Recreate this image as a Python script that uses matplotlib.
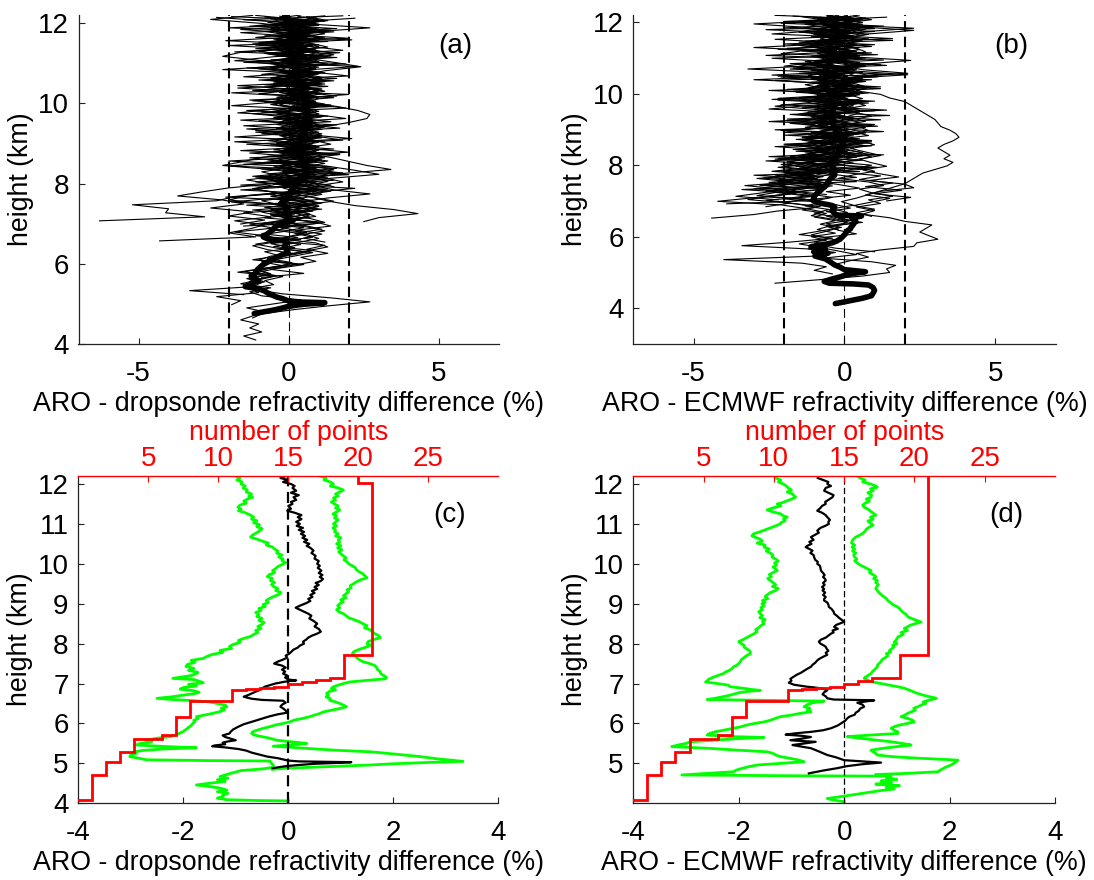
import numpy as np
import matplotlib
matplotlib.use("Agg")
import matplotlib.pyplot as plt

plt.rcParams['font.family'] = ['Liberation Sans', 'DejaVu Sans']
plt.rcParams['axes.unicode_minus'] = False
FS = 20      # tick labels and panel tags
FSL = 19.3   # axis labels

# ---------------- DATA ----------------
# Individual ARO - dropsonde profiles (%), sampled every 0.1 km from the top downward
drop_p01 = [0.4, -0.6, 0.9, -0.2, 1.1, 0.3, -0.5, 0.7, 1.3, 0.1,
            -0.4, 0.8, 0.2, 1.0, -0.3, 0.5, 0.9, -0.1, 0.6, 1.2,
            0.3, -0.2, 0.7, 0.4, 1.0, 0.1, 0.6, -0.3, 0.8, 0.5,
            1.1, 0.2, -0.4, 0.6, 0.9, 0.0, 0.5, 1.2, 0.3, -0.2,
            0.7, 0.4, -0.5, 0.2, 0.9, -0.3, 0.1, 0.6, -0.8, 0.3,
            -0.4, 0.2, -0.9, 0.5, -0.2, -1.1, 0.4, -0.6, 0.2, -0.8,
            -0.3, -1.2, 0.1, -0.7, -1.5, -0.4, -1.0, -1.6, -0.6, -1.3,
            -0.9, 0.4, -0.5, -1.4, -0.8, -1.2, -1.6, -1.0, -1.3, -0.9,
            -1.5, -1.1]
drop_p02 = [-0.8, 0.5, 0.1, 1.0, -0.4, 0.6, 0.2, -1.1, 0.8, 0.3,
            0.9, -0.2, 0.4, -0.7, 1.0, 0.2, -0.3, 0.7, 0.1, 0.5,
            -0.4, 0.9, 0.3, 0.0, 0.6, -0.5, 0.8, 0.2, 1.1, -0.1,
            0.4, 0.7, -0.3, 0.5, 0.1, -0.9, -1.5, -2.2, -0.6, 0.4,
            0.8, -0.2, 0.5, 1.0, -0.4, 0.3, -0.1, 0.7, -0.6, -0.2,
            0.4, -0.5, 0.1, -0.3, -0.9, 0.3, -0.4, -1.2, -0.7, 0.2,
            -0.5, -0.9, -0.2, -1.0, -0.6, -1.3, -0.8, -1.4, -1.1, -0.2,
            1.4, 2.7, 1.3, 0.1, -0.9, -1.2]
drop_p03 = [1.2, -0.3, 0.6, 2.7, 0.8, -0.2, 0.9, 0.4, -0.6, 1.0,
            0.5, 0.0, 1.3, 0.2, 0.7, -0.4, 0.6, 1.1, 0.3, -0.1,
            0.8, 0.4, 1.2, 0.1, 0.5, 0.9, -0.2, 0.6, 0.3, 1.0,
            0.2, 0.8, 1.4, 0.4, -0.1, 0.7, 1.1, 0.3, 0.9, 0.2,
            -0.3, 0.6, 1.0, 0.1, 0.4, -0.6, 0.8, 0.2, -0.1, 0.5,
            0.9, -0.2, 0.3, -0.7, 0.6, 0.0, -0.5, 0.4, -0.3, 0.8,
            0.1, -0.6, 0.5, -0.4, -1.1, -0.2, -0.8, -0.5, -1.3, -1.0,
            -2.4, -1.6, -1.9]
drop_p04 = [-0.2, 0.9, -1.0, 0.4, 0.0, 1.2, -0.5, 0.3, 0.8, -0.7,
            0.2, 1.0, -0.3, 0.5, 0.9, -0.6, 0.4, 0.1, 1.1, 0.6,
            -0.1, 0.5, 1.0, 0.2, -0.4, 0.7, 0.3, 0.9, -0.2, 0.4,
            0.8, -0.3, 0.6, 1.0, 0.2, 0.5, -0.5, 1.3, 2.2, 3.0,
            1.4, 0.3, -0.2, 0.8, 1.1, 0.4, -0.3, 1.0, 0.5, -0.6,
            0.7, 1.2, 0.1, -0.4, 0.6, 1.0, 0.3, -0.5, 0.8, 0.2,
            -0.7, 0.1, -0.3, -1.0, -0.6, -1.4, -0.9, -1.2, -3.3, -1.5]
drop_p05 = [-1.2, -2.6, -0.9, 0.2, -0.5, 0.7, -0.1, -0.8, 0.4, 0.9,
            -0.3, 0.5, -0.6, 0.2, 0.8, -0.1, 0.4, -0.5, 0.6, 0.0,
            0.7, -0.2, 0.3, 0.9, -0.4, 0.2, 0.6, -0.1, 0.5, 0.8,
            -0.3, 0.4, 0.0, 0.7, -0.5, 0.3, 0.9, 0.1, -0.4, 0.6,
            0.2, -0.7, 0.5, -0.2, 0.3, -1.4, -2.0, -0.6, 0.1, -0.9,
            -0.3, 0.4, -1.3, -0.5, -1.8, -0.7, -0.2, -1.1, -0.4, 0.6,
            -0.6, -1.0, 0.3, -0.8, -1.7, -0.5, -1.2]
drop_p06 = [0.6, 1.3, 0.1, -0.4, 0.8, 0.2, 1.0, -0.3, 0.5, 1.4,
            0.7, -0.2, 0.9, 0.3, 1.2, 0.0, 0.6, -0.5, 0.8, 0.4,
            1.0, 0.1, -0.3, 0.7, 0.5, 1.1, 0.2, 0.8, -0.2, 0.6,
            0.3, 1.0, 0.5, -0.1, 0.9, 0.4, 1.3, 0.2, 0.7, 1.8,
            0.9, 0.3, 1.4, 0.6, -0.2, 0.8, 1.5, 0.4, 1.0, 0.2,
            0.7, -0.3, 0.5, 1.1, 0.2, 0.8, -0.4, 1.2, 0.6, 1.3,
            0.4, 0.9, 0.1, -0.6, 0.5, -0.9]
drop_p07 = [0.0, -0.7, 0.5, 1.0, -0.2, 0.4, -0.9, 0.6, 0.2, -0.4,
            0.8, 0.1, -0.5, 0.7, 0.3, 1.1, -0.1, 0.5, 0.9, 0.4,
            1.0, 0.6, 1.6, 2.3, 2.7, 2.6, 2.0, 1.2, 0.5, -0.2,
            0.6, 0.2, 1.0, -0.3, 0.4, 0.8, 0.0, 0.6, 1.1, 0.3,
            -0.4, 0.5, 0.9, 0.1, -0.6, 0.4, 1.0, 0.2, -0.5, 0.7,
            0.3, -0.8, 0.6, 1.2, 0.4, -0.3, 0.9, 1.3, 0.6, -0.2,
            -0.7]
drop_p08 = [0.3, 1.0, -0.5, 0.2, 0.7, -0.3, 0.5, -1.0, 0.1, -1.6,
            -2.2, -1.0, 0.3, 0.8, -0.2, 0.4, -0.6, 0.9, 0.2, -0.3,
            0.6, 0.0, -0.5, 0.5, 0.9, -0.1, 0.3, -0.4, 0.7, 0.2,
            -0.2, 0.5, 0.1, 0.8, -0.3, 0.4, 0.9, -0.2, 0.6, 0.0,
            0.5, -0.6, 0.3, -1.2, -0.4, 0.2, -0.9, -0.3, 0.4, -1.5,
            -0.6, -1.8, -0.8, -1.3, -2.0, -1.1, -4.3]
drop_p09 = [-0.5, 0.2, 0.8, -0.1, 0.5, 1.1, -0.4, 0.3, 0.7, 0.0,
            0.6, 1.0, 0.2, -0.3, 0.9, 0.4, 1.2, 0.1, -0.2, 0.8,
            0.3, -0.5, 0.7, 0.2, 1.0, 0.5, -0.3, 0.6, 0.1, 1.1,
            0.4, -0.1, 0.9, 0.5, 0.2, 1.2, 0.0, 0.7, 1.5, 0.6,
            1.2, 1.8, 0.9, 1.5, 2.7, 1.3, 0.4, 1.0, 0.2, 0.7,
            -0.2, 0.9, 1.4, 0.3, 1.1, 0.5, 1.2]
drop_p10 = [0.8, -0.1, 0.4, 1.1, 0.2, -0.4, 0.6, 1.0, 0.3, 1.5,
            0.7, 1.6, 2.4, 1.2, 0.5, -0.2, 0.8, 0.3, 1.0, -0.1,
            0.5, 0.9, 0.2, -0.4, 0.6, 0.1, 0.8, 1.2, 0.4, -0.2,
            0.7, 0.3, 1.0, -0.3, 0.5, 0.8, 0.1, -0.5, 0.6, 1.3,
            0.2, 0.9, -0.2, 1.4, 0.5, -0.4, 1.1, 0.3, 0.8, -0.6,
            0.2, 1.0, -0.3, 0.4]
drop_p11 = [-1.1, 0.3, -0.4, 0.5, -0.8, 0.1, 0.7, -0.5, 0.2, -1.0,
            0.4, -0.3, 0.6, -0.6, 0.1, 0.8, -0.2, 0.3, -0.7, 0.5,
            0.0, -0.4, 0.6, 0.2, -0.6, 0.4, -0.1, 0.7, -0.3, 0.1,
            0.5, -0.5, 0.2, 0.8, -0.2, 0.3, -0.7, 0.4, 0.0, -0.9,
            -0.3, -1.4, -0.6, -2.0, -2.9, -3.7, -2.2, -1.5, -2.6, -1.2,
            -2.0, -0.8, -1.6]
drop_p12 = [0.5, 1.2, -0.2, 0.7, 0.1, 1.0, 0.4, -0.3, 0.9, 0.2,
            1.3, 0.6, -0.1, 0.8, 0.3, 1.1, 0.5, -0.2, 0.7, 0.0,
            0.9, 0.4, 1.2, 0.2, -0.3, 0.8, 0.5, 1.0, 0.1, 0.6,
            1.1, 0.3, 0.8, -0.1, 0.6, 1.4, 2.0, 2.6, 3.4, 1.8,
            0.9, 1.3, 0.5, 1.0, 0.2, 0.8, 1.4, 2.2, 3.5, 4.3,
            3.0, 2.5]
drop_p13 = [-0.3, 0.4, 1.0, -0.6, 0.2, 0.7, -0.2, 0.5, -0.8, 0.1,
            0.6, -0.4, 0.3, 0.9, -0.1, 0.4, -0.5, 0.7, 0.2, -0.3,
            0.5, 0.1, -0.6, 0.3, 0.8, -0.2, 0.4, 0.0, -0.4, 0.6,
            0.2, -0.7, 0.4, 0.9, -0.1, 0.3, -0.5, 0.6, -0.2, 0.1,
            -0.9, 0.2, -0.5, -1.2, -0.4, -1.8, -2.4, -5.2, -4.0, -4.1,
            -2.8, -6.3]
drop_p14 = [0.9, 0.2, -0.6, 0.6, 1.2, -0.1, 0.3, 0.8, -0.4, 0.5,
            0.1, 0.9, -0.3, 0.4, 1.0, 0.2, -0.5, 0.7, 0.3, 1.1,
            -0.2, 0.6, 0.1, 0.8, 0.4, -0.4, 0.9, 0.2, 0.6, -0.1,
            0.5, 1.0, 0.3, -0.2, 0.7, 0.1, 0.8, -0.3, 0.4, 0.9,
            0.2, -0.4, 0.6, 1.0, -0.1, 0.5]
drop_p15 = [1.8, -1.5, 0.9, -2.0, 1.5, -0.8, 2.1, -1.2, 0.6, -1.8,
            1.4, -0.6, 1.9, -1.4, 0.8, 2.0, -1.0, 1.2, -1.7, 0.5,
            1.6, -1.3, 0.7, 1.9, -0.9, 1.3, -1.6, 0.4, 1.7, -1.1,
            0.9, 1.8, -1.4, 0.6, 2.0, -0.7, 1.1, -1.5, 1.6, 0.3,
            -1.2, 1.5, -0.5, 2.2, 0.8]
drop_p16 = [-1.9, 1.2, -0.7, 1.6, -1.6, 0.4, -2.1, 1.0, -1.1, 1.7,
            -0.5, -1.8, 1.3, -1.0, 0.2, -1.5, 1.5, -0.8, 1.1, -1.9,
            0.6, -1.2, 1.4, -0.4, -1.7, 0.9, -1.0, 1.6, -1.4, 0.3,
            -1.8, 1.2, -0.6, 1.5, -1.3, 0.5, -2.0, 1.0, -0.9, 1.8,
            -1.1, 0.7, -1.6, 1.3, -0.3, -2.1, 0.8, -1.4, 1.1, -0.6]
drop_p17 = [2.2, 0.1, -1.3, 1.4, -0.2, 2.0, -1.0, 0.7, 1.8, -0.6,
            1.1, -1.5, 2.3, 0.4, -0.9, 1.6, -0.3, 1.3, -1.2, 2.0,
            0.2, -0.8, 1.5, -1.4, 0.9, 1.9, -0.5, 1.2, -1.1, 0.6,
            2.1, -0.4, 1.0, -1.6, 1.7, 0.3, -0.9, 1.4, -0.2, 2.0,
            -1.0, 0.8, 1.5]
drop_p18 = [-2.4, -0.5, 1.0, -1.6, 0.3, -1.1, 1.3, -2.0, 0.5, -0.8,
            1.6, -1.4, 0.0, -2.2, 0.9, -0.6, 1.2, -1.7, 0.4, -1.0,
            1.5, -0.3, -1.9, 0.8, -1.2, 0.2, 1.4, -1.5, 0.6, -0.9,
            1.1, -1.8, 0.3, -0.5, 1.7, -1.3, 0.1, -2.0, 0.9, -0.7,
            1.3, -1.1, 0.5, -1.6, 1.0, -0.4, -1.9, 0.7, -1.2, 0.2,
            -0.8, 1.1, -1.5]
# top height (km) of each dropsonde profile
drop_tops = [12.20, 12.15, 12.18, 12.13, 12.19, 12.16, 12.12, 12.17, 12.14,
             12.11, 12.19, 12.15, 12.17, 12.13, 12.18, 12.16, 12.12, 12.14]

# Individual ARO - ECMWF profiles (%), every 0.1 km from the top downward
ecm_p01 = [-0.6, 0.3, -1.2, -0.2, 0.5, -0.9, -0.3, 0.4, -1.0, -0.5,
           0.2, -0.8, -0.1, -1.3, -0.4, 0.3, -0.7, -0.2, -1.1, 0.1,
           -0.5, -0.9, 0.2, -0.4, -1.2, -0.1, -0.6, 0.3, -0.8, -0.3,
           -1.0, 0.1, -0.5, -0.9, -0.2, -1.4, -0.6, 0.2, -0.8, -1.3,
           -0.4, -1.9, -0.7, -0.2, -1.5, -2.3, -0.9, -1.6, -0.5, -2.1,
           -1.2, -0.4, -1.0, -0.3, 0.2, -0.6, 0.4, -0.2, 0.6, -0.5,
           -0.9, -0.3, -1.1, -0.6, -1.5, -0.8, -0.2, 0.4, -0.7, 0.9,
           1.7, 1.4, 1.5, 0.6, -0.8, -2.3]
ecm_p02 = [0.2, -0.7, -0.1, 0.6, -0.4, -1.0, 0.1, -0.5, 0.4, -0.8,
           -0.2, 0.5, -0.6, -1.1, -0.3, 0.2, -0.9, -0.4, 0.3, -0.7,
           -1.2, -0.1, -0.6, 0.1, -0.8, -0.3, -1.0, -0.5, 0.0, -0.9,
           -0.4, -1.3, -0.2, -0.7, 0.1, -0.5, -1.1, -0.3, -0.8, 0.0,
           -0.6, -1.4, -0.9, -0.3, -1.7, -1.0, -2.2, -0.7, -1.5, -2.6,
           -1.1, -2.0, -0.8, -1.3, -0.5, -1.0, -0.4, 0.2, -0.6, -0.1,
           -0.8, -1.5, -0.4, -1.0, -0.6, -1.2, -0.3, -0.9, -4.0, -1.4,
           -0.6, -1.0, -0.4]
ecm_p03 = [-0.9, 0.4, -0.3, 2.3, 0.6, -0.2, 0.8, -0.6, 0.1, 0.5,
           -0.4, 0.3, 2.2, 0.7, -0.1, 0.4, 2.1, 0.2, -0.5, 0.3,
           -0.2, 0.6, 0.0, -0.6, 0.4, -0.1, 0.5, -0.3, 0.2, 0.7,
           0.1, -0.4, 0.3, 0.8, -0.2, 0.5, 0.0, -0.5, 0.4, 0.9,
           0.2, -0.3, 0.6, 1.0, 0.3, -0.2, 0.8, 1.3, 0.5, 0.9,
           1.6, 0.8, 1.2, 0.4, 1.0, 0.6, 1.5, 2.0, 2.9, 2.7,
           2.5, 2.8, 3.1, 2.4, 2.3, 1.2, 0.4, 0.8, 0.2, -0.3]
ecm_p04 = [-0.3, 0.5, -0.8, 0.2, -0.5, 0.6, -0.1, -0.9, 0.3, -0.4,
           0.4, -0.6, 0.1, -0.3, 0.7, -0.2, 0.3, -0.7, 0.5, 0.0,
           0.8, 0.4, 1.2, 1.5, 2.0, 2.2, 2.4, 2.6, 2.8, 3.0,
           3.1, 3.2, 3.5, 3.7, 3.8, 3.6, 3.3, 3.1, 3.3, 3.5,
           3.3, 3.6, 3.4, 3.0, 2.6, 2.4, 2.2, 2.0, 1.6, 1.2,
           0.8, 0.4, -0.1, 0.3, -0.4, 0.1, -0.6, -0.2, 0.3, -0.5,
           -0.2, 0.4, -0.7, -0.1, -0.9, -0.3, 1.0]
ecm_p05 = [-1.4, -0.6, -3.0, -1.2, -0.4, -1.0, -0.2, -0.8, -1.5, -0.7,
           -0.3, -1.1, -0.5, -0.9, -1.6, -0.6, -0.2, -1.0, -0.4, -1.3,
           -0.7, -0.1, -0.9, -0.5, -1.2, -2.3, -0.8, -0.3, -1.1, -0.6,
           -1.4, -0.2, -0.8, -1.2, -0.5, -1.0, -1.7, -0.4, -0.9, -1.5,
           -0.7, -1.2, -2.0, -0.9, -1.6, -2.4, -1.1, -2.8, -1.5, -2.2,
           -2.9, -1.3, -2.0, -0.8, -1.4, -0.6, -1.0, -0.3, -0.8, -0.2,
           -0.6, -1.1, -0.5, -1.8, -3.4, -1.0]
ecm_p06 = [0.1, -0.4, 0.6, -0.2, -0.9, 0.3, -0.5, 0.2, -0.7, -3.0,
           -0.5, 0.4, -0.3, -1.0, -0.8, -3.2, -0.6, -0.1, -3.0, -0.4,
           -0.4, 0.3, -0.7, -0.2, 0.4, -0.6, -0.1, -0.9, -0.3, 0.2,
           -0.5, -1.0, -0.2, 0.3, -0.6, -0.1, -0.8, -0.4, 0.1, -0.7,
           -1.2, -0.3, -0.9, -1.6, -0.6, -1.1, -2.0, -0.8, -1.5, -2.6,
           -1.8, -3.0, -4.2, -2.1, -1.3, -0.7, -1.1, -0.4, 0.1, -0.6,
           -0.2]
ecm_p07 = [-0.5, 0.2, -0.2, -0.8, 0.1, -0.6, 0.4, -0.3, -1.0, -0.1,
           0.3, -0.7, -0.2, 0.5, -0.4, -0.9, 0.0, -0.5, 0.2, -0.8,
           -0.3, 0.4, -0.6, -1.1, -0.2, 0.1, -0.7, -0.3, 0.3, -0.5,
           -0.9, -0.1, 0.2, -0.6, -1.2, -0.4, 0.0, -0.8, -0.3, -1.5,
           -0.6, -2.1, -1.0, -0.4, -1.8, -0.9, -2.5, -1.4, -0.7, -2.0,
           -1.1, -2.6, -1.6, -0.9, -2.2, -3.0, -4.4]
ecm_p08 = [0.3, 0.9, 0.0, 0.5, 2.3, 0.8, 0.1, 0.6, -0.2, 0.4,
           0.7, 0.2, -0.3, 0.5, 0.0, 0.6, 2.1, 0.3, -0.1, 0.4,
           0.8, 0.1, 0.5, -0.2, 0.3, 0.7, 0.0, 0.4, 0.9, 0.2,
           -0.1, 0.5, 0.8, 0.3, 0.0, 0.6, 1.0, 0.2, 0.7, 1.2,
           0.5, 0.9, 1.4, 0.6, 1.1, 1.8, 0.8, 2.0, 2.3, 1.2,
           0.7, 1.5, 0.9, 0.3, 1.0, 0.4, 0.9]
ecm_p09 = [-0.8, -0.2, -1.3, -0.5, 0.2, -0.9, -0.4, 0.0, -1.1, -0.6,
           -0.1, -0.8, -0.4, -1.2, -0.3, 0.1, -0.7, -1.0, -0.2, -0.6,
           -1.3, -0.5, 0.0, -0.8, -0.3, -1.1, -0.6, -0.1, -0.9, -0.4,
           -1.2, -0.2, -0.7, -1.0, -0.3, -0.8, -1.4, -0.5, -1.0, -1.8,
           -0.7, -1.3, -2.2, -0.9, -1.6, -2.7, -1.2, -2.0, -3.0, -1.5,
           -2.4, -3.2, -1.8, -2.6]
ecm_p10 = [0.5, -0.3, 0.2, -0.6, 0.7, 0.1, -0.4, 0.5, 0.0, -0.5,
           0.3, -0.2, 0.6, -0.7, 0.2, -0.3, 0.4, 0.8, -0.1, 0.3,
           -0.4, 0.5, 0.1, -0.5, 0.6, 0.2, -0.2, 0.4, -0.6, 0.0,
           0.5, -0.3, 0.2, 0.7, -0.4, 0.1, 0.6, -0.2, 0.3, 0.8,
           0.2, -0.4, 0.9, 0.3, -0.1, 1.2, 0.5, 1.6, 0.7, 1.9,
           1.0, 2.2, 1.4]
ecm_p11 = [-1.0, -0.4, 0.1, -0.7, -1.5, -0.3, -0.8, -0.1, -1.2, -0.5,
           -0.9, -0.2, -0.6, -1.4, -0.4, -0.8, -0.1, -1.1, -0.5, -0.9,
           -0.3, -1.2, -0.6, -0.1, -1.0, -0.4, -0.8, -1.5, -0.3, -0.7,
           -1.1, -0.2, -0.9, -0.5, -1.3, -0.6, -0.2, -1.0, -0.4, -1.6,
           -0.8, -1.9, -1.2, -2.4, -1.0, -2.9, -1.7, -3.3, -2.0, -2.7,
           -3.6, -2.2]
ecm_p12 = [0.0, 0.6, -0.4, 0.3, -0.2, 0.8, 0.1, -0.5, 0.4, 0.0,
           -0.3, 0.5, -0.1, 0.2, 0.7, -0.4, 0.3, 0.0, 0.6, -0.2,
           0.4, -0.5, 0.2, 0.6, -0.1, 0.3, -0.3, 0.5, 0.1, -0.4,
           0.3, 0.7, -0.2, 0.2, -0.5, 0.4, 0.0, -0.3, 0.6, 0.1,
           -0.4, 0.3, -0.8, 0.0, -0.5, 0.4, -1.0, -0.2, 0.5, -0.6,
           0.2, -0.9]
ecm_p13 = [-0.2, -0.9, -0.5, 0.1, -0.6, -1.1, -0.2, -0.7, 0.2, -0.4,
           -0.8, 0.0, -0.5, -0.2, -1.0, -0.3, -0.6, 0.1, -0.9, -0.4,
           0.1, -0.7, -0.3, -1.0, -0.5, 0.0, -0.8, -0.2, -0.6, -1.1,
           -0.3, -0.7, 0.0, -0.4, -0.9, -0.2, -0.6, -1.1, -0.3, -0.8,
           -0.2, -1.3, -0.5, -0.9, -2.0, -0.7, -1.4, -0.4, -1.0, -1.8,
           -0.6]
ecm_p14 = [-0.4, 0.1, -0.7, -0.2, -1.0, 0.0, -0.5, -0.9, -0.3, 0.2,
           -0.6, -0.1, -0.9, -0.4, 0.1, -0.7, -1.2, -0.3, -0.8, 0.0,
           -0.5, -1.0, -0.2, -0.6, -0.1, -0.9, -0.4, -1.3, -0.5, -0.2,
           -0.8, -0.3, -1.1, -0.6, 0.0, -0.7, -0.2, -1.0, -0.5, -1.4,
           -0.6, -0.2, -1.1, -0.7, -1.6, -0.9]
ecm_p15 = [-2.3, 0.8, -1.6, 1.3, -2.6, 0.2, -1.1, 1.6, -2.0, 0.5,
           -1.4, 1.1, -2.4, -0.3, 1.4, -1.8, 0.6, -2.2, 0.9, -1.0,
           1.2, -2.5, 0.1, -1.5, 1.0, -2.1, 0.4, -1.2, 1.5, -1.9,
           -0.2, 1.1, -2.3, 0.6, -1.4, 0.9, -2.0, 0.3, -1.6, 1.3,
           -2.2, -0.1, -1.1, 0.8, -1.8]
ecm_p16 = [1.4, -1.2, 0.6, -2.0, 1.0, -0.7, 1.6, -1.5, 0.2, -2.2,
           0.9, -0.9, 1.3, -1.8, 0.4, -1.1, 1.5, -2.1, 0.7, -0.5,
           1.2, -1.6, 0.3, -2.4, 0.8, -0.8, 1.4, -1.3, 0.1, -1.9,
           1.0, -0.6, 1.3, -2.0, 0.5, -1.2, 0.9, -1.7, 0.2, -2.5,
           0.6, -1.0, 1.1, -2.2, -0.3, -1.5, 0.4, -2.8, -0.6, -1.9]
ecm_p17 = [-1.7, 0.5, -2.1, 0.9, -0.8, -2.4, 0.3, -1.3, 1.0, -1.9,
           -0.2, -2.6, 0.7, -1.0, -2.0, 0.4, -1.5, 1.1, -2.3, -0.5,
           0.8, -1.7, -0.1, -2.2, 0.6, -1.2, -2.5, 0.2, -0.9, 1.2,
           -1.8, -0.4, -2.1, 0.5, -1.4, 0.9, -2.0, -0.6, -1.3, 0.7,
           -2.3, -0.2, -1.6]
ecm_p18 = [0.7, -2.0, -0.4, 1.0, -1.5, 0.3, -2.3, -0.2, 0.9, -1.2,
           -2.1, 0.5, -0.9, 1.2, -1.7, -0.1, -2.4, 0.6, -1.1, 0.2,
           -1.9, 0.8, -0.6, -2.2, 0.4, -1.4, 1.0, -1.8, -0.3, -2.5,
           0.6, -1.0, -2.0, 0.3, -1.6, 0.9, -2.3, -0.5, -1.2, 0.4,
           -2.6, -0.7, -1.5, 0.5, -3.0, -1.1, -2.2, -0.4, -3.4, -1.6,
           -2.7, -0.8, -3.9]
ecm_tops = [12.20, 12.16, 12.13, 12.18, 12.15, 12.19, 12.12, 12.17, 12.14,
            12.20, 12.13, 12.16, 12.18, 12.11, 12.19, 12.14, 12.17, 12.12]

# Mean ARO - dropsonde difference (black in (c), thick in (a))
mean_drop_h = [12.20, 12.15, 12.10, 12.05, 12.00, 11.95, 11.90, 11.83, 11.78, 11.72,
               11.67, 11.60, 11.55, 11.50, 11.45, 11.38, 11.33, 11.28, 11.22, 11.17,
               11.12, 11.05, 11.00, 10.95, 10.90, 10.85, 10.80, 10.75, 10.70, 10.65,
               10.60, 10.55, 10.50, 10.45, 10.40, 10.33, 10.27, 10.20, 10.13, 10.07,
               10.00, 9.95, 9.90, 9.83, 9.77, 9.72, 9.67, 9.62, 9.57, 9.52,
               9.47, 9.42, 9.37, 9.32, 9.27, 9.22, 9.17, 9.12, 9.07, 9.02,
               8.95, 8.90, 8.85, 8.80, 8.75, 8.70, 8.63, 8.57, 8.50, 8.43,
               8.37, 8.30, 8.25, 8.20, 8.15, 8.10, 8.05, 8.00, 7.95, 7.90,
               7.85, 7.80, 7.75, 7.70, 7.65, 7.60, 7.55, 7.50, 7.45, 7.40,
               7.35, 7.30, 7.25, 7.20, 7.15, 7.10, 7.08, 7.05, 7.00, 6.96,
               6.92, 6.88, 6.83, 6.78, 6.72, 6.67, 6.62, 6.59, 6.57, 6.52,
               6.47, 6.42, 6.36, 6.31, 6.27, 6.23, 6.17, 6.10, 6.04, 5.98,
               5.92, 5.85, 5.79, 5.75, 5.70, 5.66, 5.62, 5.58, 5.55, 5.52,
               5.48, 5.45, 5.43, 5.40, 5.36, 5.32, 5.27, 5.22, 5.17, 5.13,
               5.10, 5.07, 5.05, 5.03, 5.01, 4.99, 4.96, 4.93, 4.90, 4.88]
mean_drop_x = [-0.05, -0.15, 0.0, -0.1, 0.05, 0.12, 0.08, 0.15, 0.05, 0.2,
               0.1, 0.15, 0.05, 0.08, 0.0, 0.05, -0.02, 0.12, 0.25, 0.18,
               0.25, 0.15, 0.22, 0.16, 0.28, 0.2, 0.3, 0.24, 0.32, 0.27,
               0.36, 0.3, 0.4, 0.35, 0.42, 0.48, 0.44, 0.52, 0.5, 0.58,
               0.55, 0.6, 0.56, 0.63, 0.58, 0.65, 0.6, 0.66, 0.62, 0.52,
               0.58, 0.5, 0.55, 0.45, 0.5, 0.42, 0.46, 0.38, 0.42, 0.35,
               0.22, 0.14, 0.22, 0.3, 0.38, 0.44, 0.4, 0.48, 0.55, 0.5,
               0.58, 0.62, 0.55, 0.45, 0.38, 0.34, 0.28, 0.3, 0.22, 0.18,
               0.1, 0.06, 0.02, -0.05, -0.02, -0.1, -0.2, -0.27, -0.12, -0.05,
               -0.12, -0.06, -0.1, -0.02, -0.06, 0.0, 0.15, -0.05, -0.25, -0.35,
               -0.45, -0.5, -0.56, -0.65, -0.75, -0.85, -0.7, -0.5, -0.1, -0.05,
               -0.12, -0.15, -0.08, -0.04, -0.02, -0.2, -0.38, -0.55, -0.7, -0.85,
               -0.95, -1.05, -1.1, -1.12, -1.25, -1.2, -1.1, -1.0, -1.15, -1.25,
               -1.2, -1.4, -1.45, -1.2, -0.95, -0.8, -0.7, -0.55, -0.4, -0.2,
               -0.1, 0.0, 0.2, 1.2, 0.9, 0.5, 0.2, -0.05, -0.2, -0.3]
drop_thick_tail_h = [4.84, 4.80, 4.76]
drop_thick_tail_x = [-0.55, -0.85, -1.15]

# Mean ARO - ECMWF difference (black in (d), thick in (b))
mean_ecm_h = [12.15, 12.10, 12.05, 12.00, 11.95, 11.90, 11.83, 11.77, 11.72, 11.67,
              11.60, 11.55, 11.50, 11.45, 11.40, 11.33, 11.28, 11.22, 11.17, 11.10,
              11.05, 11.00, 10.95, 10.90, 10.83, 10.78, 10.72, 10.67, 10.60, 10.55,
              10.50, 10.45, 10.42, 10.37, 10.33, 10.27, 10.22, 10.17, 10.10, 10.05,
              10.00, 9.95, 9.90, 9.83, 9.77, 9.72, 9.67, 9.62, 9.58, 9.52,
              9.47, 9.42, 9.37, 9.33, 9.28, 9.22, 9.17, 9.12, 9.08, 9.03,
              8.98, 8.92, 8.87, 8.80, 8.75, 8.70, 8.65, 8.60, 8.55, 8.52,
              8.47, 8.42, 8.37, 8.33, 8.28, 8.25, 8.20, 8.15, 8.10, 8.05,
              8.00, 7.95, 7.92, 7.87, 7.82, 7.77, 7.72, 7.67, 7.62, 7.58,
              7.52, 7.47, 7.42, 7.37, 7.32, 7.27, 7.22, 7.17, 7.12, 7.07,
              7.02, 6.97, 6.94, 6.92, 6.90, 6.87, 6.83, 6.78, 6.73, 6.68,
              6.63, 6.60, 6.58, 6.55, 6.52, 6.47, 6.42, 6.37, 6.32, 6.27,
              6.22, 6.17, 6.13, 6.07, 6.00, 5.95, 5.88, 5.83, 5.79, 5.75,
              5.72, 5.69, 5.66, 5.62, 5.58, 5.56, 5.54, 5.50, 5.46, 5.42,
              5.38, 5.30, 5.21, 5.15, 5.08, 5.05, 5.02, 4.98, 4.93, 4.88,
              4.82, 4.75]
mean_ecm_x = [-0.5, -0.4, -0.3, -0.32, -0.25, -0.35, -0.38, -0.28, -0.2, -0.22,
              -0.3, -0.36, -0.35, -0.42, -0.45, -0.51, -0.42, -0.35, -0.32, -0.27,
              -0.3, -0.29, -0.36, -0.45, -0.51, -0.48, -0.56, -0.63, -0.58, -0.66,
              -0.62, -0.7, -0.73, -0.66, -0.6, -0.64, -0.58, -0.57, -0.55, -0.5,
              -0.51, -0.46, -0.45, -0.44, -0.4, -0.37, -0.4, -0.36, -0.35, -0.4,
              -0.37, -0.42, -0.38, -0.41, -0.36, -0.4, -0.35, -0.38, -0.38, -0.32,
              -0.3, -0.29, -0.24, -0.2, -0.19, -0.14, -0.1, -0.05, 0.0, -0.05,
              -0.15, -0.19, -0.12, -0.22, -0.2, -0.25, -0.3, -0.35, -0.44, -0.48,
              -0.45, -0.38, -0.35, -0.33, -0.3, -0.35, -0.32, -0.4, -0.47, -0.51,
              -0.55, -0.6, -0.63, -0.7, -0.76, -0.82, -0.9, -0.96, -1.02, -1.0,
              -1.05, -0.95, -0.8, -0.7, -0.55, -0.4, -0.32, -0.38, -0.41, -0.35,
              -0.32, -0.2, 0.57, 0.4, 0.25, 0.35, 0.38, 0.3, 0.28, 0.22,
              0.2, 0.1, 0.06, 0.02, -0.06, -0.12, -0.25, -0.4, -0.63, -0.95,
              -1.11, -0.8, -0.63, -0.8, -1.02, -0.8, -0.54, -0.75, -0.98, -0.8,
              -0.63, -0.48, -0.32, -0.15, 0.0, 0.35, 0.7, 0.35, 0.05, -0.13,
              -0.4, -0.67]
ecm_thick_tail_h = [4.70, 4.68, 4.65, 4.58, 4.50, 4.42, 4.35, 4.28, 4.22, 4.17, 4.13]
ecm_thick_tail_x = [-0.5, 0.3, 0.8, 0.95, 1.0, 0.95, 0.9, 0.6, 0.25, -0.05, -0.3]

# Green envelopes, panel (c)
green_lo_c_h = [12.2, 12.15, 12.1, 12.05, 12.0, 11.95, 11.9, 11.85, 11.8, 11.75,
                11.7, 11.67, 11.62, 11.57, 11.52, 11.47, 11.42, 11.37, 11.33, 11.28,
                11.22, 11.17, 11.12, 11.08, 11.03, 10.98, 10.93, 10.88, 10.83, 10.78,
                10.72, 10.67, 10.62, 10.57, 10.52, 10.47, 10.42, 10.37, 10.32, 10.27,
                10.22, 10.17, 10.12, 10.08, 10.03, 9.98, 9.93, 9.88, 9.83, 9.78,
                9.73, 9.68, 9.63, 9.58, 9.53, 9.48, 9.43, 9.38, 9.33, 9.28,
                9.23, 9.18, 9.13, 9.08, 9.03, 8.98, 8.93, 8.88, 8.83, 8.78,
                8.73, 8.68, 8.63, 8.58, 8.53, 8.48, 8.43, 8.38, 8.33, 8.28,
                8.23, 8.18, 8.13, 8.08, 8.03, 7.98, 7.93, 7.88, 7.83, 7.78,
                7.73, 7.68, 7.63, 7.58, 7.53, 7.48, 7.43, 7.38, 7.33, 7.28,
                7.25, 7.2, 7.16, 7.13, 7.1, 7.06, 7.02, 6.98, 6.94, 6.9,
                6.86, 6.82, 6.78, 6.75, 6.71, 6.67, 6.63, 6.6, 6.57, 6.54,
                6.5, 6.46, 6.42, 6.38, 6.34, 6.29, 6.25, 6.21, 6.17, 6.12,
                6.08, 6.04, 6.0, 5.95, 5.9, 5.85, 5.8, 5.75, 5.71, 5.67,
                5.63, 5.58, 5.54, 5.5, 5.46, 5.42, 5.39, 5.36, 5.32, 5.28,
                5.25, 5.21, 5.17, 5.13, 5.09, 5.07, 5.06, 5.0, 4.95, 4.9,
                4.86, 4.82, 4.79, 4.75, 4.71, 4.67, 4.63, 4.59, 4.55, 4.5,
                4.46, 4.42, 4.38, 4.33, 4.29, 4.25, 4.21, 4.17, 4.13, 4.09,
                4.07, 4.06]
green_lo_c_x = [-1.0, -0.92, -0.98, -0.88, -0.9, -0.82, -0.86, -0.78, -0.8, -0.7,
                -0.75, -0.68, -0.78, -0.85, -0.8, -0.92, -0.96, -0.9, -0.95, -0.82,
                -0.72, -0.66, -0.7, -0.6, -0.66, -0.55, -0.6, -0.5, -0.54, -0.6,
                -0.68, -0.72, -0.6, -0.5, -0.38, -0.42, -0.3, -0.26, -0.2, -0.22,
                -0.12, -0.18, -0.1, -0.12, -0.05, -0.12, -0.2, -0.24, -0.3, -0.26,
                -0.36, -0.4, -0.3, -0.34, -0.26, -0.32, -0.28, -0.2, -0.24, -0.14,
                -0.18, -0.28, -0.36, -0.42, -0.38, -0.48, -0.44, -0.56, -0.52, -0.62,
                -0.56, -0.6, -0.5, -0.56, -0.46, -0.5, -0.58, -0.52, -0.62, -0.58,
                -0.66, -0.72, -0.85, -0.95, -0.92, -1.05, -1.12, -1.08, -1.3, -1.25,
                -1.45, -1.55, -1.62, -1.85, -1.78, -1.92, -1.95, -1.8, -1.9, -1.72,
                -1.75, -1.85, -2.05, -2.2, -1.8, -1.7, -1.62, -1.9, -1.75, -2.0,
                -2.06, -1.8, -1.7, -1.78, -2.0, -2.2, -2.5, -2.2, -1.8, -1.5,
                -1.35, -1.2, -1.17, -1.28, -1.22, -1.32, -1.45, -1.6, -1.75, -1.72,
                -1.8, -1.78, -1.82, -1.85, -1.9, -1.95, -2.0, -2.08, -2.15, -2.25,
                -2.5, -2.7, -2.6, -2.82, -2.89, -2.3, -1.75, -2.4, -2.8, -2.95,
                -2.9, -3.0, -3.02, -2.85, -2.7, -1.5, -0.35, -0.32, -0.28, -0.3,
                -0.5, -0.9, -0.98, -1.1, -1.2, -1.3, -1.15, -1.35, -1.2, -1.5,
                -1.75, -1.5, -1.3, -1.17, -1.35, -1.15, -1.25, -1.24, -1.35, -1.17,
                -0.6, 0.0]
green_hi_c_h = [12.2, 12.15, 12.1, 12.05, 12.0, 11.95, 11.9, 11.85, 11.8, 11.75,
                11.7, 11.65, 11.6, 11.55, 11.5, 11.45, 11.4, 11.35, 11.3, 11.25,
                11.2, 11.15, 11.1, 11.05, 11.0, 10.95, 10.9, 10.85, 10.8, 10.75,
                10.7, 10.65, 10.6, 10.55, 10.5, 10.45, 10.4, 10.35, 10.3, 10.25,
                10.2, 10.15, 10.1, 10.05, 10.0, 9.95, 9.9, 9.85, 9.8, 9.75,
                9.7, 9.65, 9.6, 9.55, 9.5, 9.45, 9.4, 9.35, 9.3, 9.25,
                9.2, 9.15, 9.1, 9.05, 9.0, 8.95, 8.9, 8.85, 8.8, 8.75,
                8.7, 8.65, 8.6, 8.55, 8.5, 8.45, 8.4, 8.35, 8.3, 8.25,
                8.2, 8.15, 8.1, 8.05, 8.0, 7.96, 7.92, 7.87, 7.83, 7.79,
                7.75, 7.7, 7.65, 7.6, 7.55, 7.5, 7.45, 7.4, 7.35, 7.3,
                7.25, 7.2, 7.15, 7.12, 7.08, 7.04, 7.0, 6.96, 6.92, 6.88,
                6.84, 6.8, 6.75, 6.71, 6.67, 6.62, 6.58, 6.54, 6.5, 6.46,
                6.42, 6.38, 6.34, 6.29, 6.25, 6.21, 6.17, 6.12, 6.08, 6.04,
                6.0, 5.96, 5.92, 5.87, 5.83, 5.79, 5.75, 5.71, 5.67, 5.63,
                5.58, 5.55, 5.52, 5.5, 5.47, 5.43, 5.4, 5.38, 5.33, 5.29,
                5.25, 5.21, 5.17, 5.12, 5.08, 5.05, 5.02, 4.99, 4.96, 4.92,
                4.88, 4.85]
green_hi_c_x = [0.6, 0.72, 0.68, 0.8, 0.86, 0.8, 0.95, 1.05, 0.98, 0.9,
                0.95, 0.86, 0.9, 0.82, 0.88, 0.95, 0.9, 0.98, 0.92, 0.85,
                0.92, 0.88, 0.95, 0.9, 0.86, 0.92, 0.85, 0.9, 0.88, 0.95,
                0.9, 1.0, 0.95, 0.98, 0.92, 1.0, 0.94, 1.02, 0.96, 1.0,
                1.05, 1.1, 1.06, 1.12, 1.15, 1.22, 1.28, 1.3, 1.35, 1.42,
                1.46, 1.5, 1.38, 1.3, 1.24, 1.18, 1.2, 1.12, 1.15, 1.1,
                1.05, 1.1, 1.0, 1.05, 0.98, 0.94, 0.98, 0.92, 0.96, 1.05,
                1.1, 1.15, 1.25, 1.35, 1.42, 1.5, 1.45, 1.55, 1.6, 1.65,
                1.72, 1.75, 1.62, 1.52, 1.5, 1.56, 1.5, 1.38, 1.3, 1.24,
                1.22, 1.28, 1.3, 1.35, 1.42, 1.55, 1.65, 1.68, 1.7, 1.75,
                1.76, 1.82, 1.87, 1.85, 1.5, 1.17, 1.05, 0.95, 0.86, 0.82,
                0.9, 0.78, 0.73, 0.76, 0.72, 0.8, 0.79, 0.9, 0.98, 1.05,
                1.11, 1.0, 0.85, 0.67, 0.6, 0.5, 0.41, 0.25, 0.1, 0.03,
                -0.1, -0.25, -0.35, -0.5, -0.6, -0.68, -0.7, -0.65, -0.5, -0.35,
                -0.22, 0.0, 0.2, 0.35, 0.1, -0.29, 0.1, 0.29, 0.9, 1.56,
                1.9, 2.2, 2.51, 2.8, 3.1, 3.33, 2.6, 2.0, 1.56, 0.8,
                -0.03, -0.3]

# Green envelopes, panel (d)
green_lo_d_h = [12.2, 12.15, 12.1, 12.05, 12.0, 11.95, 11.9, 11.85, 11.8, 11.75,
                11.7, 11.67, 11.62, 11.57, 11.52, 11.5, 11.45, 11.4, 11.35, 11.3,
                11.25, 11.2, 11.17, 11.12, 11.08, 11.03, 11.0, 10.95, 10.9, 10.85,
                10.8, 10.75, 10.7, 10.67, 10.62, 10.57, 10.52, 10.47, 10.42, 10.37,
                10.32, 10.27, 10.22, 10.17, 10.12, 10.07, 10.02, 9.97, 9.92, 9.87,
                9.83, 9.78, 9.73, 9.68, 9.63, 9.58, 9.53, 9.48, 9.43, 9.38,
                9.33, 9.28, 9.23, 9.18, 9.13, 9.08, 9.03, 9.0, 8.95, 8.9,
                8.85, 8.8, 8.75, 8.7, 8.65, 8.6, 8.55, 8.5, 8.45, 8.4,
                8.35, 8.3, 8.25, 8.2, 8.15, 8.1, 8.05, 8.0, 7.96, 7.92,
                7.87, 7.83, 7.79, 7.75, 7.7, 7.65, 7.6, 7.55, 7.5, 7.45,
                7.42, 7.38, 7.33, 7.29, 7.25, 7.2, 7.15, 7.1, 7.06, 7.04,
                7.0, 6.96, 6.92, 6.88, 6.85, 6.83, 6.8, 6.77, 6.71, 6.67,
                6.63, 6.6, 6.58, 6.56, 6.52, 6.47, 6.42, 6.38, 6.33, 6.29,
                6.25, 6.21, 6.17, 6.13, 6.08, 6.04, 6.0, 5.96, 5.92, 5.88,
                5.83, 5.79, 5.75, 5.71, 5.67, 5.65, 5.62, 5.58, 5.54, 5.5,
                5.46, 5.42, 5.38, 5.33, 5.29, 5.25, 5.21, 5.17, 5.12, 5.08,
                5.04, 5.0, 4.96, 4.92, 4.87, 4.83, 4.79, 4.75, 4.71, 4.69,
                4.68, 4.64, 4.6, 4.56, 4.52, 4.48, 4.44, 4.4, 4.36, 4.32,
                4.28, 4.24, 4.2, 4.16, 4.12, 4.08, 4.04]
green_lo_d_x = [-1.28, -1.3, -1.2, -1.25, -1.15, -1.1, -1.06, -1.0, -1.08, -0.98,
                -0.95, -0.92, -1.0, -1.1, -1.2, -1.27, -1.2, -1.35, -1.46, -1.35,
                -1.2, -1.15, -1.08, -1.15, -1.12, -1.2, -1.21, -1.3, -1.4, -1.5,
                -1.6, -1.72, -1.75, -1.7, -1.6, -1.55, -1.65, -1.5, -1.52, -1.42,
                -1.48, -1.4, -1.35, -1.37, -1.3, -1.25, -1.32, -1.28, -1.35, -1.3,
                -1.27, -1.35, -1.42, -1.38, -1.45, -1.4, -1.35, -1.3, -1.36, -1.25,
                -1.3, -1.4, -1.45, -1.5, -1.45, -1.55, -1.5, -1.56, -1.52, -1.58,
                -1.55, -1.62, -1.59, -1.55, -1.6, -1.5, -1.55, -1.52, -1.58, -1.62,
                -1.68, -1.65, -1.71, -1.78, -1.85, -1.92, -2.0, -1.95, -1.9, -1.9,
                -1.85, -1.8, -1.78, -1.78, -1.85, -1.9, -1.95, -1.97, -2.0, -2.05,
                -2.1, -2.12, -2.18, -2.25, -2.29, -2.4, -2.5, -2.58, -2.6, -2.63,
                -2.4, -2.2, -2.16, -1.9, -1.75, -1.59, -1.85, -2.0, -2.16, -2.3,
                -2.45, -2.6, -1.5, -0.38, -0.6, -0.7, -0.76, -0.65, -0.7, -0.63,
                -0.85, -1.0, -1.21, -1.3, -1.4, -1.52, -1.7, -1.85, -1.95, -2.1,
                -2.3, -2.45, -2.55, -2.6, -2.1, -1.52, -2.0, -2.5, -2.92, -3.0,
                -3.15, -3.27, -2.6, -2.0, -1.46, -1.35, -1.3, -1.21, -1.0, -0.85,
                -0.76, -1.2, -1.65, -1.8, -1.95, -2.05, -2.1, -2.6, -3.08, -1.0,
                0.89, 0.8, 1.0, 0.7, 0.9, 0.6, 1.05, 0.8, 0.95, 0.7,
                0.5, 0.3, 0.1, -0.1, -0.32, -0.2, 0.0]
green_hi_d_h = [12.2, 12.15, 12.1, 12.05, 12.0, 11.95, 11.92, 11.88, 11.83, 11.78,
                11.72, 11.67, 11.62, 11.57, 11.52, 11.47, 11.42, 11.37, 11.32, 11.27,
                11.22, 11.17, 11.12, 11.07, 11.02, 10.97, 10.92, 10.87, 10.82, 10.77,
                10.72, 10.67, 10.62, 10.57, 10.52, 10.47, 10.42, 10.37, 10.32, 10.27,
                10.22, 10.17, 10.12, 10.07, 10.02, 9.97, 9.92, 9.87, 9.83, 9.78,
                9.73, 9.68, 9.63, 9.58, 9.53, 9.48, 9.43, 9.38, 9.33, 9.28,
                9.23, 9.18, 9.13, 9.08, 9.03, 8.98, 8.93, 8.88, 8.83, 8.78,
                8.73, 8.67, 8.62, 8.57, 8.54, 8.5, 8.46, 8.42, 8.38, 8.33,
                8.28, 8.23, 8.17, 8.12, 8.08, 8.04, 8.0, 7.96, 7.92, 7.87,
                7.83, 7.79, 7.75, 7.7, 7.65, 7.6, 7.55, 7.5, 7.46, 7.42,
                7.38, 7.33, 7.29, 7.25, 7.2, 7.16, 7.13, 7.08, 7.04, 7.0,
                6.96, 6.92, 6.88, 6.83, 6.79, 6.75, 6.71, 6.67, 6.63, 6.58,
                6.54, 6.5, 6.46, 6.42, 6.38, 6.33, 6.29, 6.25, 6.21, 6.17,
                6.13, 6.08, 6.04, 6.0, 5.96, 5.92, 5.88, 5.83, 5.79, 5.75,
                5.71, 5.67, 5.63, 5.58, 5.54, 5.5, 5.46, 5.42, 5.38, 5.33,
                5.29, 5.25, 5.21, 5.17, 5.13, 5.1, 5.08, 5.04, 5.0, 4.96,
                4.92, 4.87, 4.83, 4.79, 4.75, 4.72]
green_hi_d_x = [0.25, 0.3, 0.4, 0.35, 0.5, 0.6, 0.63, 0.5, 0.55, 0.45,
                0.52, 0.51, 0.42, 0.48, 0.4, 0.35, 0.38, 0.45, 0.5, 0.55,
                0.6, 0.5, 0.55, 0.45, 0.5, 0.55, 0.48, 0.42, 0.4, 0.36,
                0.3, 0.22, 0.18, 0.15, 0.14, 0.2, 0.15, 0.2, 0.16, 0.22,
                0.18, 0.2, 0.24, 0.2, 0.25, 0.3, 0.38, 0.45, 0.51, 0.48,
                0.55, 0.6, 0.56, 0.63, 0.6, 0.65, 0.62, 0.6, 0.63, 0.66,
                0.7, 0.75, 0.8, 0.83, 0.88, 0.92, 1.0, 1.05, 1.08, 1.12,
                1.18, 1.21, 1.3, 1.4, 1.46, 1.35, 1.25, 1.2, 1.14, 1.2,
                1.08, 1.12, 1.02, 1.0, 0.98, 0.95, 1.0, 0.92, 0.95, 0.9,
                0.86, 0.88, 0.8, 0.83, 0.78, 0.72, 0.7, 0.66, 0.63, 0.63,
                0.6, 0.56, 0.53, 0.51, 0.45, 0.4, 0.38, 0.45, 0.54, 0.7,
                0.85, 1.02, 1.15, 1.25, 1.32, 1.4, 1.5, 1.62, 1.75, 1.6,
                1.5, 1.55, 1.46, 1.4, 1.32, 1.35, 1.27, 1.2, 1.15, 1.08,
                1.2, 1.3, 1.33, 1.2, 1.05, 0.95, 0.89, 0.95, 1.02, 1.02,
                0.5, 0.06, 0.3, 0.63, 0.9, 1.1, 1.27, 1.0, 0.75, 0.51,
                0.55, 0.6, 0.63, 0.9, 1.4, 1.9, 2.16, 2.12, 2.08, 2.03,
                1.95, 1.88, 1.82, 1.78, 1.2, 0.6]

# Number of points per height (red steps): bin edges in km and counts
count_c_edges = [4.05, 4.08, 4.71, 5.04, 5.29, 5.60, 5.72, 6.17, 6.56, 6.83,
                 6.86, 6.89, 6.92, 7.00, 7.05, 7.10, 7.15, 7.71, 12.02, 12.2]
count_c_vals = [0, 1, 2, 3, 4, 6, 7, 8, 11, 12, 13, 14, 15, 16, 17, 18, 19, 21, 20]
count_d_edges = [4.05, 4.08, 4.71, 5.04, 5.29, 5.60, 5.71, 6.17, 6.56, 6.83,
                 6.86, 6.89, 6.92, 6.99, 7.06, 7.13, 7.71, 12.2]
count_d_vals = [0, 1, 2, 3, 4, 6, 7, 8, 11, 12, 13, 14, 15, 16, 17, 19, 21]

DROP_PROFILES = [drop_p01, drop_p02, drop_p03, drop_p04, drop_p05, drop_p06,
                 drop_p07, drop_p08, drop_p09, drop_p10, drop_p11, drop_p12,
                 drop_p13, drop_p14, drop_p15, drop_p16, drop_p17, drop_p18]
ECM_PROFILES = [ecm_p01, ecm_p02, ecm_p03, ecm_p04, ecm_p05, ecm_p06,
                ecm_p07, ecm_p08, ecm_p09, ecm_p10, ecm_p11, ecm_p12,
                ecm_p13, ecm_p14, ecm_p15, ecm_p16, ecm_p17, ecm_p18]
STEP = 0.1

XLAB_DROP = 'ARO - dropsonde refractivity difference (%)'
XLAB_ECM = 'ARO - ECMWF refractivity difference (%)'
YLAB = 'height (km)'

# ---------------- FIGURE ----------------
fig = plt.figure(figsize=(10.94, 8.80), dpi=100)

W, H = 1094.0, 880.0
def rect(x0, y0, x1, y1):
    return [x0 / W, 1 - y1 / H, (x1 - x0) / W, (y1 - y0) / H]

ax_a = fig.add_axes(rect(78.5, 15, 499, 344))
ax_b = fig.add_axes(rect(633.3, 15, 1055.5, 344))
ax_c = fig.add_axes(rect(78.3, 476, 498.3, 803.3))
ax_d = fig.add_axes(rect(633.3, 476, 1055, 803.3))


def base_style(ax):
    for s in ['top', 'right']:
        ax.spines[s].set_visible(False)
    for s in ['left', 'bottom']:
        ax.spines[s].set_linewidth(0.9)
        ax.spines[s].set_color('#222222')
    ax.tick_params(direction='in', length=4, width=0.8, labelsize=FS, color='#222222')
    ax.tick_params(axis='x', pad=12)
    ax.tick_params(axis='y', pad=7)


def spaghetti(ax, profiles, tops, mean_h, mean_x, tail_h, tail_x, ylim, yticks, xlab, tag):
    for p, top in zip(profiles, tops):
        hh = top - STEP * np.arange(len(p))
        ax.plot(p, hh, color='black', lw=0.8)
    ax.plot(list(mean_x) + list(tail_x), list(mean_h) + list(tail_h),
            color='black', lw=4.0, solid_capstyle='round', solid_joinstyle='round')
    ax.axvline(-2, color='black', lw=1.5, ls=(0, (5, 2.5)))
    ax.axvline(2, color='black', lw=1.5, ls=(0, (5, 2.5)))
    ax.axvline(0, color='black', lw=0.8, ls=(0, (8, 4)))
    ax.set_xlim(-7, 7)
    ax.set_ylim(*ylim)
    ax.set_xticks([-5, 0, 5])
    ax.set_yticks(yticks)
    base_style(ax)
    ax.set_xlabel(xlab, fontsize=FSL, labelpad=3)
    ax.set_ylabel(YLAB, fontsize=FSL, labelpad=3)
    ax.text(0.895, 0.905, tag, transform=ax.transAxes, ha='center', va='center', fontsize=FS)


spaghetti(ax_a, DROP_PROFILES, drop_tops, mean_drop_h, mean_drop_x,
          drop_thick_tail_h, drop_thick_tail_x,
          (4, 12.2), [4, 6, 8, 10, 12], XLAB_DROP, '(a)')
spaghetti(ax_b, ECM_PROFILES, ecm_tops, mean_ecm_h, mean_ecm_x,
          ecm_thick_tail_h, ecm_thick_tail_x,
          (3, 12.2), [4, 6, 8, 10, 12], XLAB_ECM, '(b)')


def stats_panel(ax, lo_h, lo_x, hi_h, hi_x, m_h, m_x, edges, vals, yticks, xlab, tag, dash_lw):
    ax.plot(lo_x, lo_h, color='#00ff00', lw=2.0)
    ax.plot(hi_x, hi_h, color='#00ff00', lw=2.0)
    ax.plot(m_x, m_h, color='black', lw=1.6)
    ax.plot([0, 0], [4.0, 12.2], color='black', lw=dash_lw, ls=(0, (5, 2.5)))
    ax.set_xlim(-4, 4)
    ax.set_ylim(4, 12.2)
    ax.set_xticks([-4, -2, 0, 2, 4])
    ax.set_yticks(yticks)
    base_style(ax)
    ax.set_xlabel(xlab, fontsize=FSL, labelpad=3)
    ax.set_ylabel(YLAB, fontsize=FSL, labelpad=3)
    ax2 = ax.twiny()
    ax2.stairs(vals, edges, orientation='horizontal', baseline=None, color='red', lw=2.0)
    ax2.set_xlim(0, 30)
    ax2.set_xticks([5, 10, 15, 20, 25])
    for s in ['left', 'right', 'bottom']:
        ax2.spines[s].set_visible(False)
    ax2.spines['top'].set_color('red')
    ax2.spines['top'].set_linewidth(1.0)
    ax2.tick_params(axis='x', colors='red', direction='in', length=4, width=0.8,
                    labelsize=FS, pad=3)
    ax2.set_xlabel('number of points', color='red', fontsize=FSL, labelpad=4)
    ax2.text(0.885, 0.88, tag, transform=ax2.transAxes, ha='center', va='center', fontsize=FS)


stats_panel(ax_c, green_lo_c_h, green_lo_c_x, green_hi_c_h, green_hi_c_x,
            mean_drop_h, mean_drop_x, count_c_edges, count_c_vals,
            [4, 5, 6, 7, 8, 9, 10, 11, 12], XLAB_DROP, '(c)', 1.6)
stats_panel(ax_d, green_lo_d_h, green_lo_d_x, green_hi_d_h, green_hi_d_x,
            mean_ecm_h, mean_ecm_x, count_d_edges, count_d_vals,
            [5, 6, 7, 8, 9, 10, 11, 12], XLAB_ECM, '(d)', 0.9)

fig.savefig('out.png', dpi=100)
